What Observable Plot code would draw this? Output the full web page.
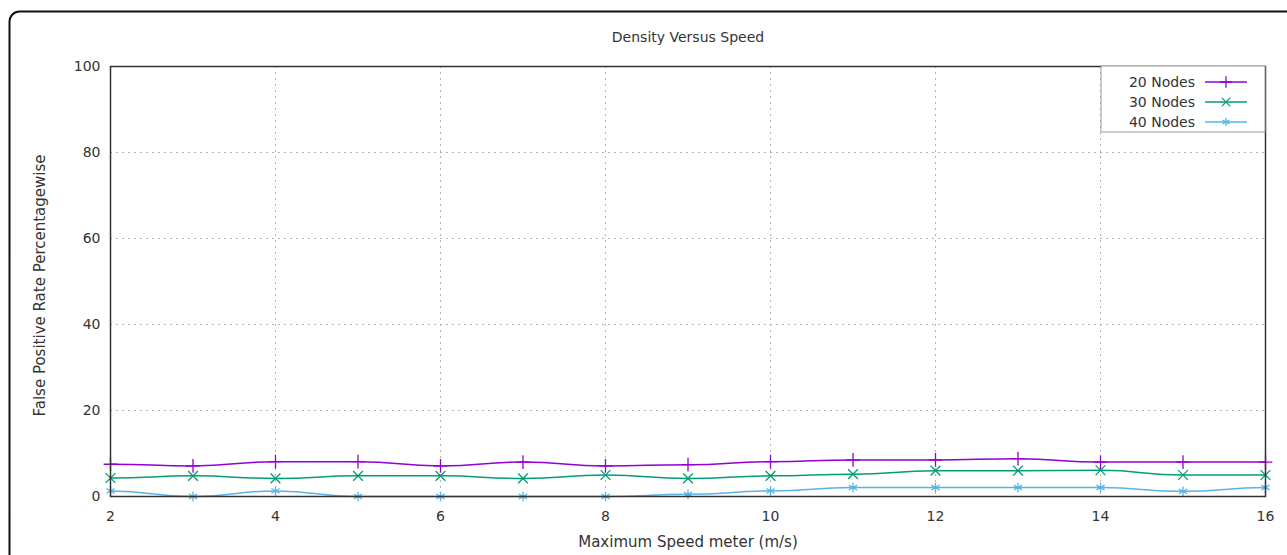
<!DOCTYPE html>
<html>
<head>
<meta charset="utf-8">
<script src="https://cdn.jsdelivr.net/npm/d3@7"></script>
<script src="https://cdn.jsdelivr.net/npm/@observablehq/plot@0.6"></script>
<style>
  html, body { margin: 0; padding: 0; background: #fff; }
  #chart { position: relative; width: 1287px; height: 555px; overflow: hidden; }
</style>
</head>
<body>
<div id="chart"></div>
<script>
// ---- data ----
const speeds = [2, 3, 4, 5, 6, 7, 8, 9, 10, 11, 12, 13, 14, 15, 16];
const nodes20 = [7.5, 7.1, 8.1, 8.1, 7.1, 8.0, 7.1, 7.4, 8.1, 8.5, 8.5, 8.8, 8.0, 8.0, 8.0];
const nodes30 = [4.3, 4.8, 4.2, 4.8, 4.8, 4.2, 5.0, 4.2, 4.8, 5.2, 6.0, 6.0, 6.1, 5.0, 5.0];
const nodes40 = [1.3, 0.0, 1.3, 0.0, 0.0, 0.0, 0.0, 0.5, 1.3, 2.1, 2.1, 2.1, 2.1, 1.2, 2.1];
const seriesNames = ["20 Nodes", "30 Nodes", "40 Nodes"];
const seriesColors = ["#9400d3", "#009e73", "#56b4e9"];
const seriesSymbols = ["plus", "times", "asterisk"];
const xTicks = [2, 4, 6, 8, 10, 12, 14, 16];
const yTicks = [0, 20, 40, 60, 80, 100];
const titleText = "Density Versus Speed";
const xLabel = "Maximum Speed meter (m/s)";
const yLabel = "False Positive Rate Percentagewise";

const seriesValues = [nodes20, nodes30, nodes40];
const rows = [];
seriesNames.forEach((name, i) => {
  speeds.forEach((s, j) => rows.push({series: name, speed: s, value: seriesValues[i][j]}));
});

const font = "'DejaVu Sans', sans-serif";
const W = 1287, H = 555;
const mL = 110, mR = 22, mT = 66, mB = 59;

const plot = Plot.plot({
  width: W,
  height: H,
  marginLeft: mL,
  marginRight: mR,
  marginTop: mT,
  marginBottom: mB,
  style: {fontFamily: font, fontSize: "14px", color: "#333", background: "#fff"},
  x: {domain: [2, 16], ticks: xTicks, tickSize: 0, tickPadding: 15, label: null},
  y: {domain: [0, 100], ticks: yTicks, tickSize: 0, tickPadding: 10, label: null},
  color: {domain: seriesNames, range: seriesColors},
  symbol: {domain: seriesNames, range: seriesSymbols},
  marks: [
    Plot.gridX(xTicks.filter(d => d > 2 && d < 16), {stroke: "#aaa", strokeOpacity: 0.9, strokeDasharray: "2,4"}),
    Plot.gridY(yTicks.filter(d => d > 0 && d < 100), {stroke: "#aaa", strokeOpacity: 0.9, strokeDasharray: "2,4"}),
    Plot.axisX({ticks: xTicks, tickSize: 0, tickPadding: 15, label: null, fill: "#333", fontSize: 14}),
    Plot.axisY({ticks: yTicks, tickSize: 0, tickPadding: 10, label: null, fill: "#333", fontSize: 14}),
    Plot.line(rows, {x: "speed", y: "value", z: "series", stroke: "series", strokeWidth: 1.5, curve: "bump-x"}),
    Plot.dot(rows, {x: "speed", y: "value", stroke: "series", symbol: "series", r: 4.5, strokeWidth: 1.3}),
    Plot.frame({stroke: "#333", strokeWidth: 1.5}),
    Plot.text([titleText], {frameAnchor: "top", dy: -34, text: d => d, fontSize: 14, fill: "#333"}),
    Plot.text([xLabel], {frameAnchor: "bottom", dy: 50, text: d => d, fontSize: 15, fill: "#333"}),
    Plot.text([yLabel], {frameAnchor: "left", textAnchor: "middle", dx: -70, dy: 4, rotate: -90, text: d => d, fontSize: 15, fill: "#333"})
  ]
});

document.getElementById("chart").appendChild(plot);

// outer rounded frame around the figure
const svg = d3.select(plot);
svg.insert("rect", ":first-child")
  .attr("x", 9.5).attr("y", 11.5)
  .attr("width", W + 40).attr("height", H + 40)
  .attr("rx", 10).attr("ry", 10)
  .attr("fill", "#fff").attr("stroke", "#111").attr("stroke-width", 2);

// legend (top-right, inside the frame)
const legend = svg.append("g").attr("font-family", font).attr("font-size", 14);
const boxRight = W - mR, boxLeft = boxRight - 164, boxTop = mT, boxBottom = mT + 66;
legend.append("rect")
  .attr("x", boxLeft).attr("y", boxTop)
  .attr("width", boxRight - boxLeft).attr("height", boxBottom - boxTop)
  .attr("fill", "#fff").attr("stroke", "#999").attr("stroke-width", 1);
const sym = {plus: d3.symbolPlus, times: d3.symbolTimes, asterisk: d3.symbolAsterisk};
seriesNames.forEach((name, i) => {
  const y = boxTop + 16 + i * 20;
  legend.append("text").attr("x", boxRight - 70).attr("y", y).attr("dy", "0.35em")
    .attr("text-anchor", "end").attr("fill", "#333").text(name);
  legend.append("line").attr("x1", boxRight - 60).attr("x2", boxRight - 18)
    .attr("y1", y).attr("y2", y).attr("stroke", seriesColors[i]).attr("stroke-width", 1.5);
  legend.append("path")
    .attr("transform", `translate(${boxRight - 39},${y})`)
    .attr("d", d3.symbol(sym[seriesSymbols[i]], Math.PI * 3.8 * 3.8)())
    .attr("fill", "none").attr("stroke", seriesColors[i]).attr("stroke-width", 1.3);
});
</script>
</body>
</html>
